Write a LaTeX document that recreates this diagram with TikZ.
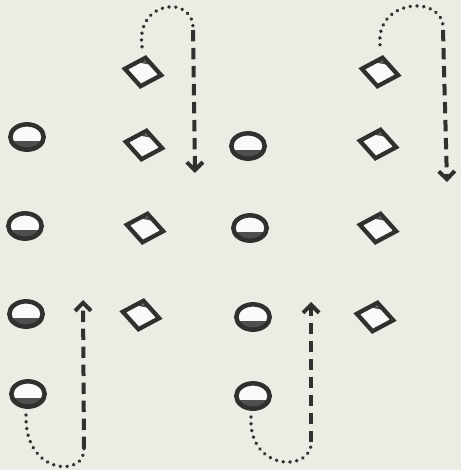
\documentclass[tikz,border=0pt]{standalone}
\usetikzlibrary{shapes.geometric, arrows.meta}
\definecolor{paper}{RGB}{236,236,229}
\definecolor{ink}{RGB}{48,48,46}

\begin{document}
\begin{tikzpicture}[
    x=0.75pt,
    y=-0.75pt,
    bead/.style={
        ellipse,
        draw=ink,
        line width=3.4pt,
        minimum width=25pt,
        minimum height=19pt,
        inner sep=0pt,
        fill=white!70!paper,
        path picture={\fill[ink!85] ([yshift=-3pt]path picture bounding box.west) rectangle (path picture bounding box.south east);}
    },
    gem/.style={
        diamond,
        draw=ink,
        line width=3.2pt,
        minimum width=29pt,
        minimum height=23pt,
        inner sep=0pt,
        rotate=-10,
        fill=white!70!paper,
        path picture={\fill[ink!85] (path picture bounding box.north west) rectangle ([yshift=4pt]path picture bounding box.east);}
    },
    trail/.style={
        ink,
        line width=2.8pt,
        line cap=round,
        dash pattern=on 0.1pt off 5pt
    },
    flow/.style={
        ink,
        line width=3pt,
        dash pattern=on 8.5pt off 5pt,
        -{Straight Barb[length=6pt,width=12pt,line width=3pt]}
    }
]
\useasboundingbox[fill=paper] (0,0) rectangle (461,470);

% ============================================
% LEFT BLOCK
% ============================================
\node[bead] (cA1) at (27,137) {};
\node[bead] (cA2) at (25,226) {};
\node[bead] (cA3) at (26,314) {};
\node[bead] (cA4) at (28,394) {};

\node[gem] (dA0) at (143,72) {};
\node[gem] (dA1) at (144,145) {};
\node[gem] (dA2) at (145,228) {};
\node[gem] (dA3) at (141,315) {};

% ============================================
% RIGHT BLOCK
% ============================================
\node[bead] (cB1) at (248,146) {};
\node[bead] (cB2) at (250,228) {};
\node[bead] (cB3) at (253,317) {};
\node[bead] (cB4) at (253,396) {};

\node[gem] (dB0) at (380,72) {};
\node[gem] (dB1) at (378,144) {};
\node[gem] (dB2) at (378,228) {};
\node[gem] (dB3) at (375,317) {};

% Turning points of the dashed runs
\coordinate (topA) at (193,30);
\coordinate (endA) at (195,173);
\coordinate (topB) at (443,30);
\coordinate (endB) at (447,182);
\coordinate (botA) at (84,448);
\coordinate (tipA) at (83,300);
\coordinate (botB) at (311,442);
\coordinate (tipB) at (311,302);

% Downward runs
\draw[trail] (dA0.north) ++(-4,-8) .. controls (135,0) and (195,-6) .. (topA);
\draw[flow] (topA) -- (endA);
\draw[trail] (dB0.north) ++(-3,-10) .. controls (375,-2) and (446,-6) .. (topB);
\draw[flow] (topB) -- (endB);

% Upward runs
\draw[trail] (cA4.south) ++(-2,6) .. controls (24,475) and (86,478) .. (botA);
\draw[flow] (botA) -- (tipA);
\draw[trail] (cB4.south) ++(-2,6) .. controls (248,472) and (313,472) .. (botB);
\draw[flow] (botB) -- (tipB);

\end{tikzpicture}
\end{document}
